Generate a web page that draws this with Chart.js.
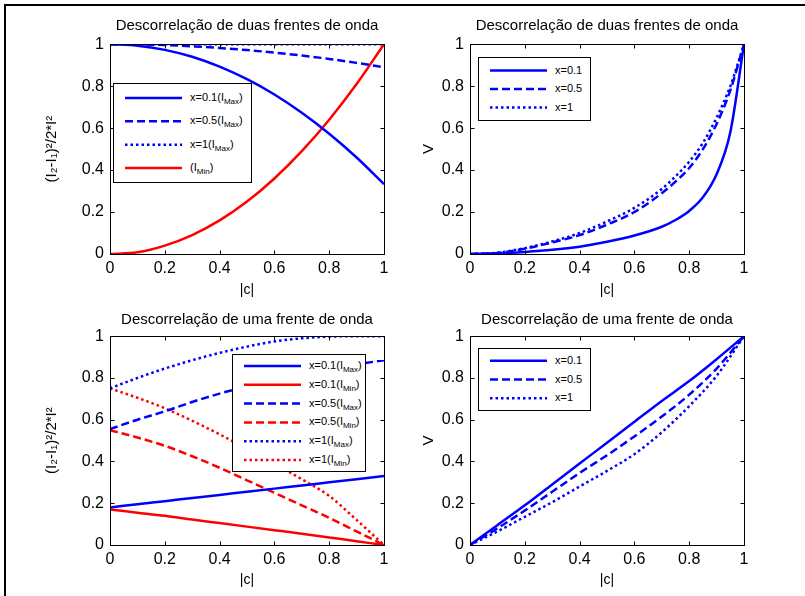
<!DOCTYPE html>
<html>
<head>
<meta charset="utf-8">
<script src="https://cdn.jsdelivr.net/npm/chart.js@4.4.1/dist/chart.umd.min.js"></script>
<style>
html, body { margin: 0; padding: 0; background: #fff; overflow: hidden; width: 805px; height: 596px; }
body { position: relative; font-family: "Liberation Sans", Arial, sans-serif; }
#frame { position: absolute; left: 4px; top: 4px; width: 830px; height: 630px; border-top: 2px solid #000; border-left: 2px solid #000; }
canvas { position: absolute; }
.leg { position: absolute; background: #fff; border: 1px solid #000; box-sizing: border-box; }
.leg .row { position: absolute; left: 0; right: 0; }
.leg svg { position: absolute; left: 11px; top: 0; }
.leg span { position: absolute; left: 76px; font-size: 11px; line-height: 12px; white-space: nowrap; color: #000; }
.leg sub { font-size: 8px; vertical-align: -3px; line-height: 0; }
</style>
</head>
<body>
<div id="frame"></div>
<canvas id="c1" width="380" height="300" style="left:20px;top:10px"></canvas>
<canvas id="c2" width="380" height="300" style="left:380px;top:10px"></canvas>
<canvas id="c3" width="380" height="300" style="left:20px;top:302px"></canvas>
<canvas id="c4" width="380" height="300" style="left:380px;top:302px"></canvas>
<script>
// |c| values
const cValues = [0, 0.1, 0.2, 0.3, 0.4, 0.5, 0.6, 0.7, 0.8, 0.9, 1];
const cSteep = [0, 0.1, 0.2, 0.3, 0.4, 0.5, 0.6, 0.7, 0.75, 0.8, 0.85, 0.9, 0.95, 1];
const axisTicks = [0, 0.2, 0.4, 0.6, 0.8, 1];

// duas frentes de onda - intensidade
const twoMax01 = [1, 0.993, 0.973, 0.94, 0.893, 0.833, 0.76, 0.673, 0.573, 0.46, 0.333];
const twoMax05 = [1, 0.999, 0.996, 0.99, 0.982, 0.972, 0.96, 0.946, 0.93, 0.911, 0.89];
const twoMax1 = [1, 1, 1, 1, 1, 1, 1, 1, 1, 1, 1];
const twoMin = [0, 0.008, 0.04, 0.09, 0.16, 0.25, 0.36, 0.49, 0.64, 0.81, 1];

// duas frentes de onda - visibilidade
const twoV01 = [0, 0.003, 0.01, 0.02, 0.035, 0.058, 0.088, 0.13, 0.162, 0.205, 0.27, 0.38, 0.58, 1];
const twoV05 = [0, 0.005, 0.025, 0.055, 0.09, 0.14, 0.2, 0.29, 0.345, 0.41, 0.5, 0.62, 0.78, 1];
const twoV1 = [0, 0.006, 0.028, 0.06, 0.1, 0.155, 0.22, 0.31, 0.37, 0.44, 0.53, 0.65, 0.8, 1];

// uma frente de onda - intensidade
const oneMax01 = [0.18, 0.195, 0.21, 0.225, 0.24, 0.255, 0.27, 0.285, 0.3, 0.315, 0.33];
const oneMin01 = [0.17, 0.155, 0.14, 0.122, 0.105, 0.088, 0.071, 0.054, 0.036, 0.018, 0];
const oneMax05 = [0.555, 0.6, 0.64, 0.685, 0.725, 0.76, 0.79, 0.82, 0.845, 0.865, 0.885];
const oneMin05 = [0.55, 0.515, 0.475, 0.425, 0.37, 0.31, 0.25, 0.19, 0.13, 0.065, 0];
const oneMax1 = [0.75, 0.8, 0.845, 0.885, 0.92, 0.95, 0.975, 0.99, 0.998, 1, 1];
const oneMin1 = [0.75, 0.705, 0.655, 0.595, 0.53, 0.46, 0.39, 0.315, 0.235, 0.12, 0];

// uma frente de onda - visibilidade
const oneV01 = [0, 0.095, 0.19, 0.29, 0.39, 0.49, 0.59, 0.69, 0.785, 0.89, 1];
const oneV05 = [0, 0.08, 0.165, 0.255, 0.345, 0.43, 0.52, 0.615, 0.72, 0.845, 1];
const oneV1 = [0, 0.065, 0.135, 0.205, 0.28, 0.355, 0.435, 0.54, 0.665, 0.81, 1];

const BLUE = '#0000ff';
const RED = '#ff0000';
const SOLID = [];
const DASH = [8, 4];
const DOT = [2.5, 3];

Chart.defaults.font.family = '"Liberation Sans", Arial, sans-serif';
Chart.defaults.color = '#000';

function pts(xs, ys) {
    return xs.map((x, i) => ({ x: x, y: ys[i] }));
}

function line(label, xs, ys, color, dash) {
    return {
        label: label,
        data: pts(xs, ys),
        borderColor: color,
        borderWidth: 2.5,
        borderDash: dash,
        pointRadius: 0,
        fill: false,
        cubicInterpolationMode: 'monotone'
    };
}

// caixa preta com marcas para dentro (estilo matlab)
const boxPlugin = {
    id: 'matlabBox',
    afterDatasetsDraw(chart) {
        const { ctx, chartArea: a, scales } = chart;
        const L = Math.round(a.left) + 0.5, T = Math.round(a.top) + 0.5;
        const R = Math.round(a.right) + 0.5, B = Math.round(a.bottom) + 0.5;
        ctx.save();
        ctx.strokeStyle = '#000';
        ctx.lineWidth = 1;
        ctx.strokeRect(L, T, R - L, B - T);
        ctx.beginPath();
        scales.x.ticks.forEach(t => {
            const px = Math.round(scales.x.getPixelForValue(t.value)) + 0.5;
            ctx.moveTo(px, B); ctx.lineTo(px, B - 4);
            ctx.moveTo(px, T); ctx.lineTo(px, T + 4);
        });
        scales.y.ticks.forEach(t => {
            const py = Math.round(scales.y.getPixelForValue(t.value)) + 0.5;
            ctx.moveTo(L, py); ctx.lineTo(L + 4, py);
            ctx.moveTo(R, py); ctx.lineTo(R - 4, py);
        });
        ctx.stroke();
        ctx.restore();
    }
};

const tickLabel = v => String(+v.toFixed(1));

function makeChart(id, title, yLabel, yTitlePad, xHeight, xTitlePad, titlePad, datasets) {
    return new Chart(document.getElementById(id), {
        type: 'line',
        data: { datasets: datasets },
        options: {
            responsive: false,
            animation: false,
            layout: { padding: { left: 0, right: 16, top: 0, bottom: 0 } },
            plugins: {
                legend: { display: false },
                tooltip: { enabled: false },
                title: {
                    display: true,
                    text: title,
                    fullSize: false,
                    color: '#000',
                    font: { size: 15, weight: 'normal' },
                    padding: titlePad
                }
            },
            scales: {
                x: {
                    type: 'linear', min: 0, max: 1,
                    afterBuildTicks: s => { s.ticks = axisTicks.map(v => ({ value: v })); },
                    ticks: { padding: 5, font: { size: 16 }, color: '#000', maxRotation: 0, callback: tickLabel },
                    grid: { display: false, drawTicks: false },
                    border: { display: false },
                    title: { display: true, text: '|c|', color: '#000', font: { size: 14 }, padding: { top: 0, bottom: xTitlePad } },
                    afterFit: s => { s.height = xHeight; }
                },
                y: {
                    type: 'linear', min: 0, max: 1,
                    afterBuildTicks: s => { s.ticks = axisTicks.map(v => ({ value: v })); },
                    ticks: { padding: 6, font: { size: 16 }, color: '#000', callback: tickLabel },
                    grid: { display: false, drawTicks: false },
                    border: { display: false },
                    title: { display: true, text: yLabel, color: '#000', font: { size: 15 }, padding: { top: yTitlePad, bottom: 0 } },
                    afterFit: s => { s.width = 90; }
                }
            }
        },
        plugins: [boxPlugin]
    });
}

// legenda em html para poder usar subscritos
function buildLegend(chart, box, texts, rowH) {
    const div = document.createElement('div');
    div.className = 'leg';
    div.style.left = box[0] + 'px';
    div.style.top = box[1] + 'px';
    div.style.width = box[2] + 'px';
    div.style.height = box[3] + 'px';
    const n = texts.length;
    const pad = (box[3] - 2 - n * rowH) / 2;
    chart.data.datasets.forEach((ds, i) => {
        const cy = pad + rowH * i + rowH / 2;
        const row = document.createElement('div');
        row.className = 'row';
        row.style.top = '0px';
        const dash = ds.borderDash.length ? ds.borderDash.join(' ') : 'none';
        row.innerHTML =
            '<svg width="60" height="' + (box[3]) + '" style="top:0"><line x1="0" x2="57" y1="' + cy + '" y2="' + cy +
            '" stroke="' + ds.borderColor + '" stroke-width="2.5" stroke-dasharray="' + dash + '"/></svg>' +
            '<span style="top:' + (cy - 7) + 'px">' + texts[i] + '</span>';
        div.appendChild(row);
    });
    document.body.appendChild(div);
}

const c1 = makeChart('c1', 'Descorrelação de duas frentes de onda', '(I₂-I₁)²/2*I²', 23, 56, 11,
    { top: 6.6, bottom: 9.6 }, [
    line('x=0.1(I_Max)', cValues, twoMax01, BLUE, SOLID),
    line('x=0.5(I_Max)', cValues, twoMax05, BLUE, DASH),
    line('x=1(I_Max)', cValues, twoMax1, BLUE, DOT),
    line('(I_Min)', cValues, twoMin, RED, SOLID)
]);
buildLegend(c1, [113, 83, 139, 100], [
    'x=0.1(I<sub>Max</sub>)', 'x=0.5(I<sub>Max</sub>)', 'x=1(I<sub>Max</sub>)', '(I<sub>Min</sub>)'
], 23.3);

const c2 = makeChart('c2', 'Descorrelação de duas frentes de onda', 'V', 40, 56, 11,
    { top: 6.6, bottom: 9.6 }, [
    line('x=0.1', cSteep, twoV01, BLUE, SOLID),
    line('x=0.5', cSteep, twoV05, BLUE, DASH),
    line('x=1', cSteep, twoV1, BLUE, DOT)
]);
buildLegend(c2, [478, 57, 113, 64], ['x=0.1', 'x=0.5', 'x=1'], 18.5);

const c3 = makeChart('c3', 'Descorrelação de uma frente de onda', '(I₂-I₁)²/2*I²', 23, 57, 13,
    { top: 8.6, bottom: 7.6 }, [
    line('x=0.1(I_Max)', cValues, oneMax01, BLUE, SOLID),
    line('x=0.1(I_Min)', cValues, oneMin01, RED, SOLID),
    line('x=0.5(I_Max)', cValues, oneMax05, BLUE, DASH),
    line('x=0.5(I_Min)', cValues, oneMin05, RED, DASH),
    line('x=1(I_Max)', cValues, oneMax1, BLUE, DOT),
    line('x=1(I_Min)', cValues, oneMin1, RED, DOT)
]);
buildLegend(c3, [232, 354, 134, 118], [
    'x=0.1(I<sub>Max</sub>)', 'x=0.1(I<sub>Min</sub>)', 'x=0.5(I<sub>Max</sub>)',
    'x=0.5(I<sub>Min</sub>)', 'x=1(I<sub>Max</sub>)', 'x=1(I<sub>Min</sub>)'
], 18.8);

const c4 = makeChart('c4', 'Descorrelação de uma frente de onda', 'V', 40, 57, 13,
    { top: 8.6, bottom: 7.6 }, [
    line('x=0.1', cValues, oneV01, BLUE, SOLID),
    line('x=0.5', cValues, oneV05, BLUE, DASH),
    line('x=1', cValues, oneV1, BLUE, DOT)
]);
buildLegend(c4, [478, 348, 113, 63], ['x=0.1', 'x=0.5', 'x=1'], 18.85);
</script>
</body>
</html>
